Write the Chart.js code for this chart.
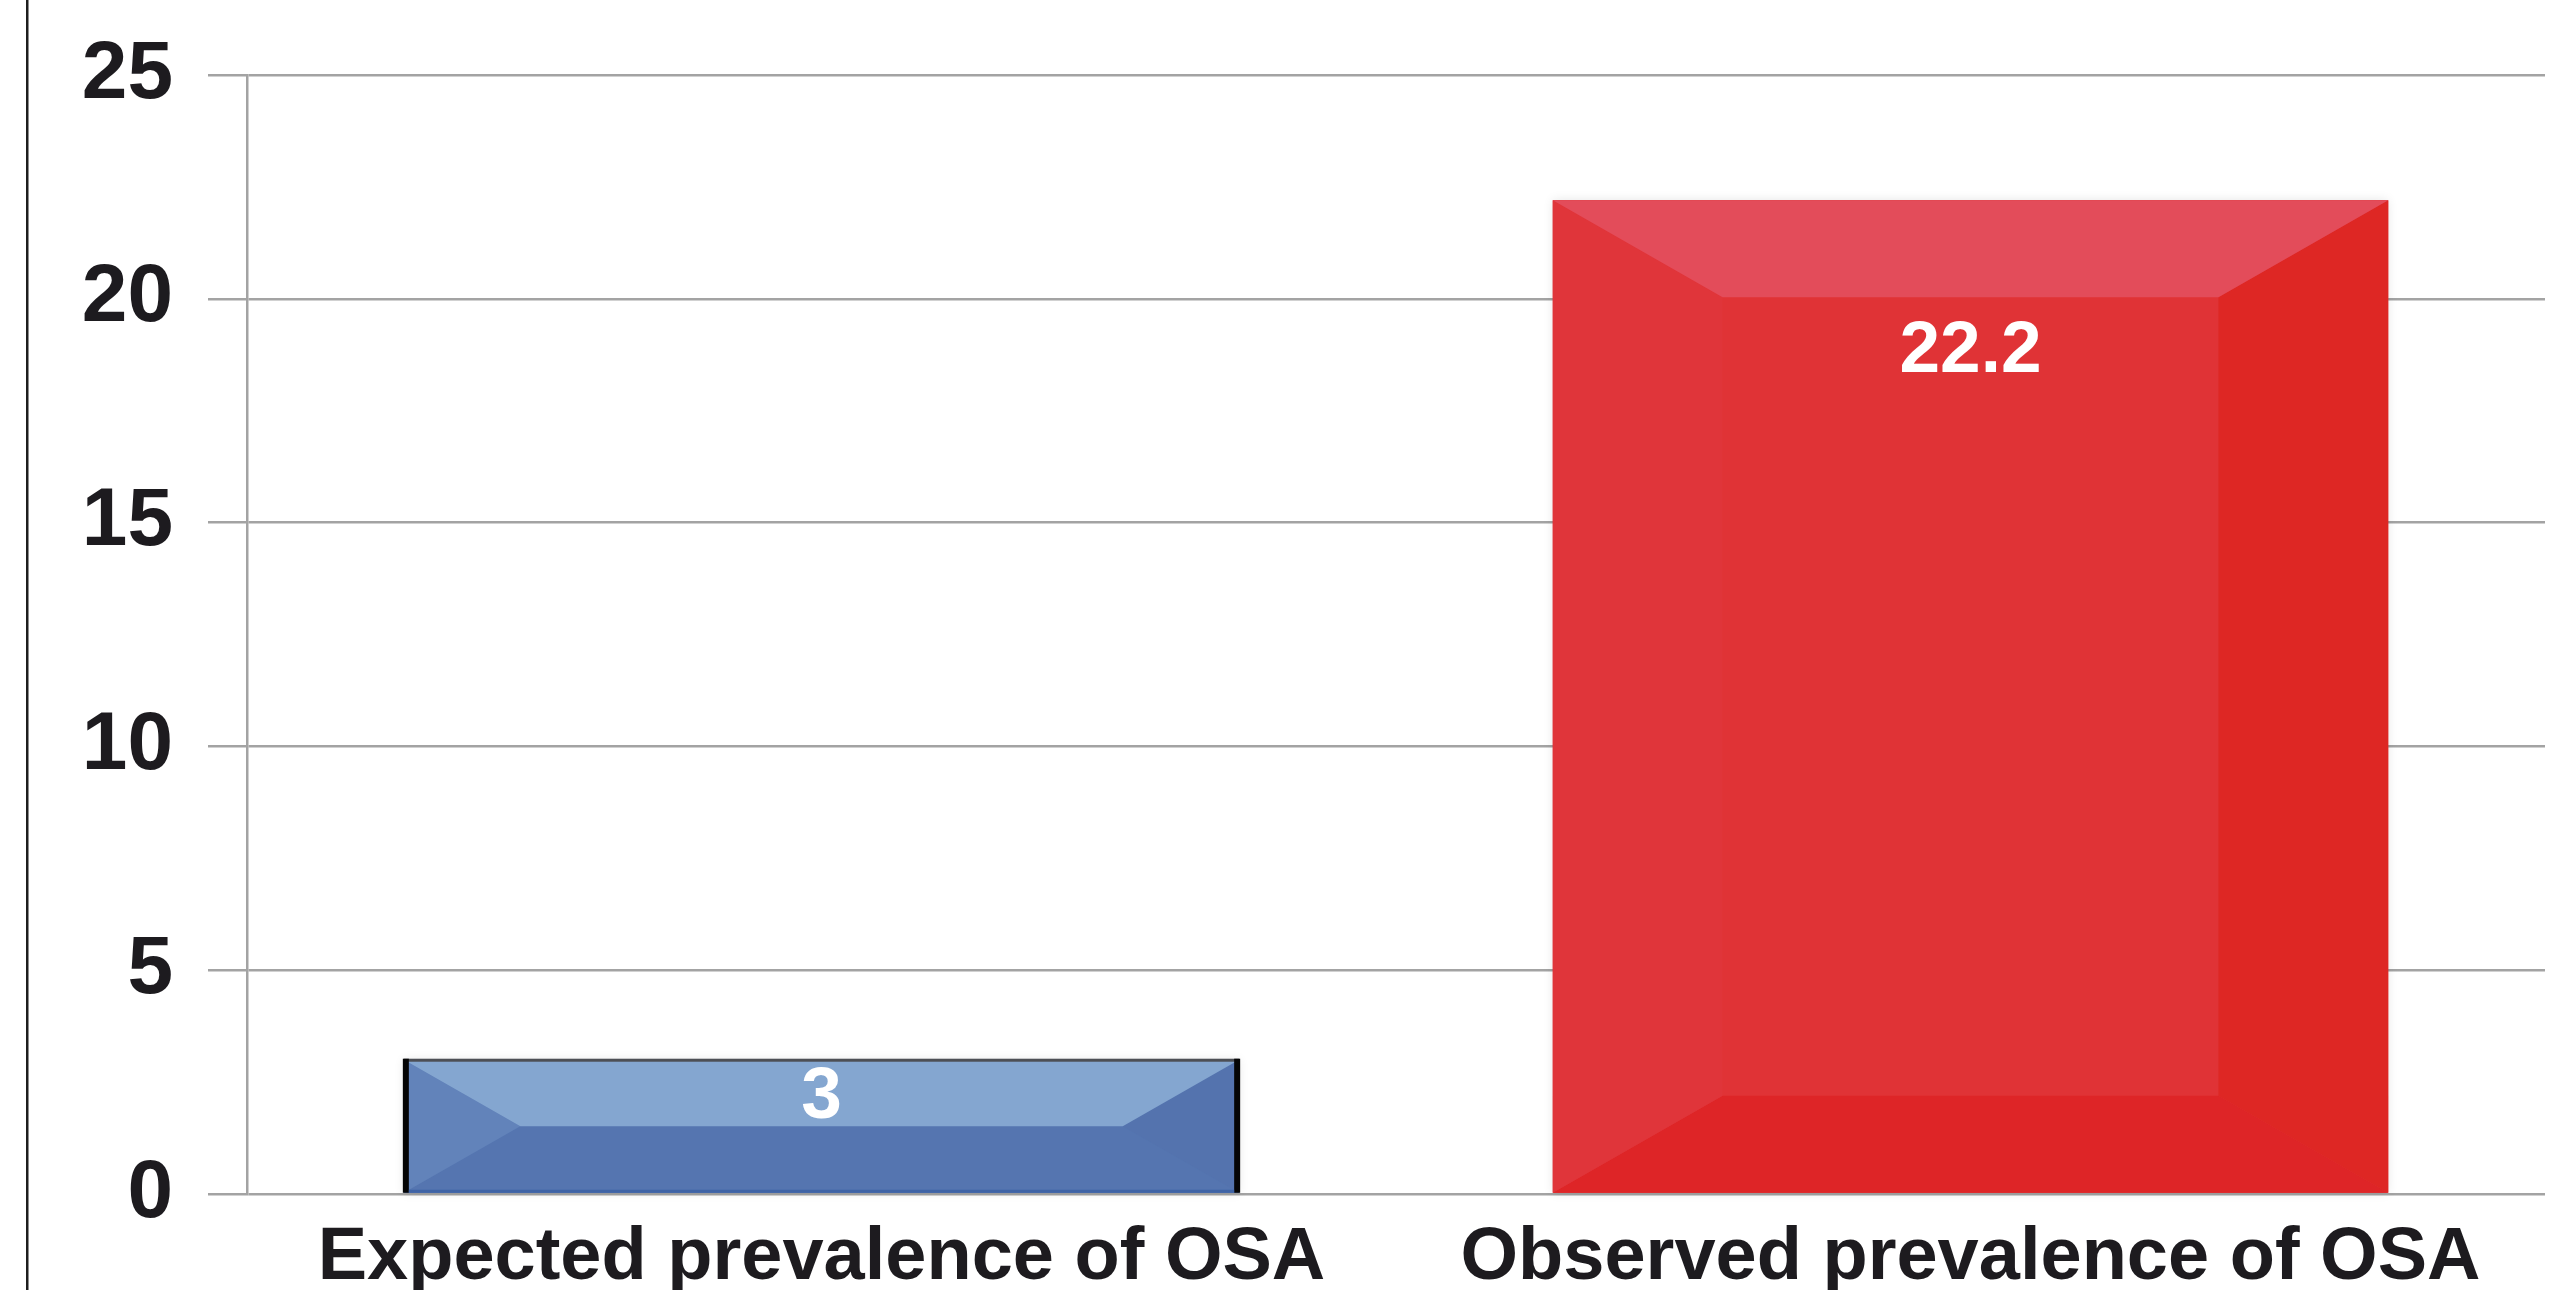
<!DOCTYPE html>
<html>
<head>
<meta charset="utf-8">
<script src="https://cdn.jsdelivr.net/npm/chart.js@4.4.1/dist/chart.umd.min.js"></script>
<style>
  html, body { margin: 0; padding: 0; background: #ffffff; overflow: hidden; }
  #wrap { width: 2563px; height: 1290px; position: relative; }
</style>
</head>
<body>
<div id="wrap"><canvas id="c" width="2563" height="1290"></canvas></div>
<script>
// Prevalence of obstructive sleep apnoea (%)
const categories = ['Expected prevalence of OSA', 'Observed prevalence of OSA'];
const prevalence = [3, 22.2];
const yTicks = [0, 5, 10, 15, 20, 25];

// Face colours for the bevelled bars
const faceColors = [
  { center: '#5576b0', top: '#84a6d0', bottom: '#5575b0', left: '#6283ba', right: '#5473ae', edged: true },
  { center: '#e03336', top: '#e34c5a', bottom: '#de2527', left: '#e0353a', right: '#de2724', edged: false }
];

const FONT = '"Liberation Sans", Arial, Helvetica, sans-serif';
const INK = '#1d1b1f';
const GRID = '#a3a3a3';

// Thin black rule at the far left of the figure
const frameRule = {
  id: 'frameRule',
  beforeDraw(chart) {
    const ctx = chart.ctx;
    ctx.save();
    ctx.fillStyle = '#1e1e1e';
    ctx.fillRect(26, 0, 2.5, chart.height);
    ctx.restore();
  }
};

function poly(ctx, pts, color) {
  ctx.beginPath();
  ctx.moveTo(pts[0][0], pts[0][1]);
  for (let i = 1; i < pts.length; i++) ctx.lineTo(pts[i][0], pts[i][1]);
  ctx.closePath();
  ctx.fillStyle = color;
  ctx.fill();
}

// Bevelled faces plus the value written inside each bar
const bevelBars = {
  id: 'bevelBars',
  afterDatasetsDraw(chart) {
    const ctx = chart.ctx;
    const meta = chart.getDatasetMeta(0);
    meta.data.forEach((bar, i) => {
      const p = bar.getProps(['x', 'y', 'base', 'width'], true);
      const L = p.x - p.width / 2, R = p.x + p.width / 2;
      const T = p.y, B = p.base;
      const h = B - T;
      const d = Math.min(97, h * 0.5);
      const w = Math.min(d * 1.75, p.width / 2);
      const c = faceColors[i];

      ctx.save();
      // soft halo around the bar
      ctx.shadowColor = 'rgba(0,0,0,0.10)';
      ctx.shadowBlur = 10;
      poly(ctx, [[L, T], [R, T], [R, B], [L, B]], c.center);
      ctx.restore();

      ctx.save();
      poly(ctx, [[L, B], [R, B], [R - w, B - d], [L + w, B - d]], c.bottom);
      poly(ctx, [[L, T], [L + w, T + d], [L + w, B - d], [L, B]], c.left);
      poly(ctx, [[R, T], [R - w, T + d], [R - w, B - d], [R, B]], c.right);
      poly(ctx, [[L, T], [R, T], [R - w, T + d], [L + w, T + d]], c.top);

      if (c.edged) {
        ctx.fillStyle = '#4d4f55';
        ctx.fillRect(L, T - 1, R - L, 3);
        ctx.fillStyle = '#050505';
        ctx.fillRect(L - 1, T - 1, 6, h + 1);
        ctx.fillRect(R - 5, T - 1, 6, h + 1);
        ctx.fillStyle = '#3f63a5';
        ctx.fillRect(L + 5, B - 3, R - L - 10, 3);
      }

      // value label
      const v = chart.data.datasets[0].data[i];
      const off = Math.min(152, h * 0.29);
      ctx.fillStyle = '#ffffff';
      ctx.font = 'bold 73px ' + FONT;
      ctx.textAlign = 'center';
      ctx.textBaseline = 'middle';
      ctx.fillText(String(v), p.x, T + off);
      ctx.restore();
    });
  }
};

new Chart(document.getElementById('c'), {
  type: 'bar',
  data: {
    labels: categories,
    datasets: [{
      data: prevalence,
      backgroundColor: faceColors.map(f => f.center),
      borderWidth: 0,
      categoryPercentage: 1.0,
      barPercentage: 0.727
    }]
  },
  options: {
    responsive: false,
    animation: false,
    devicePixelRatio: 1,
    layout: { padding: { top: 75, right: 18, left: 0, bottom: 0 } },
    plugins: {
      legend: { display: false },
      tooltip: { enabled: false }
    },
    scales: {
      x: {
        grid: { display: false },
        border: { display: false },
        ticks: {
          color: INK,
          font: { family: FONT, size: 74, weight: 'bold' },
          padding: 12,
          maxRotation: 0,
          autoSkip: false
        },
        afterFit(scale) { scale.height = 96; }
      },
      y: {
        min: 0,
        max: 25,
        afterBuildTicks(scale) { scale.ticks = yTicks.map(v => ({ value: v })); },
        grid: { color: GRID, lineWidth: 2.5, tickLength: 39, drawTicks: true },
        border: { display: true, color: GRID, width: 2.5 },
        ticks: {
          color: INK,
          font: { family: FONT, size: 82, weight: 'bold' },
          padding: 35
        },
        afterFit(scale) {
          scale.width = 247;
          scale.paddingTop = 0;
          scale.paddingBottom = 0;
        }
      }
    }
  },
  plugins: [frameRule, bevelBars]
});
</script>
</body>
</html>
